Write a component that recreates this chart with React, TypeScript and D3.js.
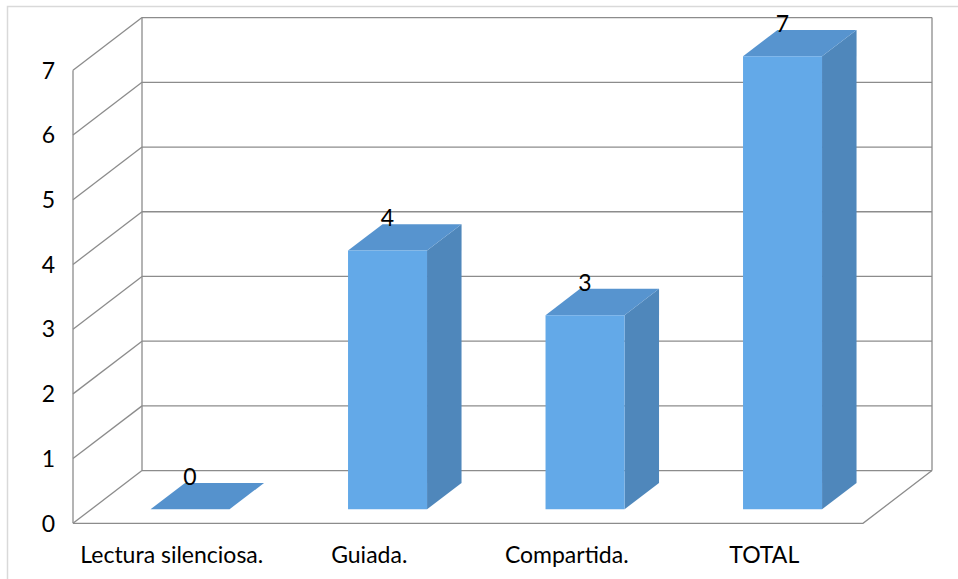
import { useEffect, useRef } from "react";
import * as d3 from "d3";

const categories = ["Lectura silenciosa.", "Guiada.", "Compartida.", "TOTAL"];
const values = [0, 4, 3, 7];
const yTicks = [0, 1, 2, 3, 4, 5, 6, 7];

export default function App() {
  const svgRef = useRef<SVGSVGElement>(null);

  useEffect(() => {
    if (!svgRef.current) return;
    const width = 958;
    const height = 579;

    const svg = d3.select(svgRef.current);
    svg.selectAll("*").remove();
    svg.attr("width", width).attr("height", height);

    // depth vector of the 3D box
    const dx = 69;
    const dy = -52.7;
    const f0 = 0.265; // bar front depth
    const f1 = 0.765; // bar back depth

    const x = d3
      .scaleBand<string>()
      .domain(categories)
      .range([73, 863])
      .paddingInner(0.6)
      .paddingOuter(0.3);

    const y = d3.scaleLinear().domain([0, 7]).range([523.3, 70.3]);

    const pt = (px: number, v: number, f: number) =>
      [px + f * dx, y(v) + f * dy] as [number, number];

    const poly = (pts: [number, number][]) =>
      pts.map((p) => p.join(",")).join(" ");

    const font = "Lato, 'Open Sans', sans-serif";
    const gridColor = "#8c8c8c";

    // outer frame
    svg
      .append("rect")
      .attr("x", 7.5)
      .attr("y", 6.5)
      .attr("width", width)
      .attr("height", height)
      .attr("fill", "#fff")
      .attr("stroke", "#d9d9d9")
      .attr("stroke-width", 1.5);

    const x0 = 73;
    const x1 = 863;
    const grid = svg.append("g").attr("stroke", gridColor).attr("stroke-width", 1.3).attr("fill", "none");

    // back wall gridlines + side wall diagonals
    yTicks.forEach((t) => {
      const a = pt(x0, t, 1);
      const b = pt(x1, t, 1);
      grid.append("line").attr("x1", a[0]).attr("y1", a[1]).attr("x2", b[0]).attr("y2", b[1]);
      const c = pt(x0, t, 0);
      grid.append("line").attr("x1", c[0]).attr("y1", c[1]).attr("x2", a[0]).attr("y2", a[1]);
    });

    // verticals
    const vlines: [number, number][][] = [
      [pt(x0, 0, 0), pt(x0, 7, 0)],
      [pt(x0, 0, 1), pt(x0, 7, 1)],
      [pt(x1, 0, 1), pt(x1, 7, 1)],
    ];
    vlines.forEach(([a, b]) =>
      grid.append("line").attr("x1", a[0]).attr("y1", a[1]).attr("x2", b[0]).attr("y2", b[1]),
    );

    // floor front and right edges
    grid
      .append("polyline")
      .attr("points", poly([pt(x0, 0, 0), pt(x1, 0, 0), pt(x1, 0, 1)]));

    // bars
    const bw = x.bandwidth();
    const bars = svg.append("g");
    categories.forEach((cat, i) => {
      const v = values[i];
      const l = x(cat)!;
      const r = l + bw;
      if (v === 0) {
        bars
          .append("polygon")
          .attr("points", poly([pt(l, 0, f0), pt(r, 0, f0), pt(r, 0, f1), pt(l, 0, f1)]))
          .attr("fill", "#5592cd");
        return;
      }
      // side
      bars
        .append("polygon")
        .attr("points", poly([pt(r, 0, f0), pt(r, v, f0), pt(r, v, f1), pt(r, 0, f1)]))
        .attr("fill", "#4f87bb");
      // top
      bars
        .append("polygon")
        .attr("points", poly([pt(l, v, f0), pt(r, v, f0), pt(r, v, f1), pt(l, v, f1)]))
        .attr("fill", "#5794cf");
      // front
      bars
        .append("polygon")
        .attr("points", poly([pt(l, 0, f0), pt(r, 0, f0), pt(r, v, f0), pt(l, v, f0)]))
        .attr("fill", "#63a9e8");
    });

    // data labels
    categories.forEach((cat, i) => {
      const v = values[i];
      const cx = x(cat)! + bw / 2 + f0 * dx;
      const ty = pt(0, v, f1)[1] + 2;
      svg
        .append("text")
        .attr("x", cx)
        .attr("y", ty)
        .attr("text-anchor", "middle")
        .attr("font-family", font)
        .attr("font-size", 23)
        .attr("fill", "#000")
        .text(v);
    });

    // y axis labels
    yTicks.forEach((t) => {
      svg
        .append("text")
        .attr("x", 55)
        .attr("y", y(t))
        .attr("dy", "0.36em")
        .attr("text-anchor", "end")
        .attr("font-family", font)
        .attr("font-size", 23)
        .attr("fill", "#000")
        .text(t);
    });

    // x axis labels
    categories.forEach((cat) => {
      svg
        .append("text")
        .attr("x", x(cat)! + bw / 2)
        .attr("y", 563)
        .attr("text-anchor", "middle")
        .attr("font-family", font)
        .attr("font-size", 23)
        .attr("fill", "#000")
        .text(cat);
    });
  }, []);

  return (
    <svg
      ref={svgRef}
      style={{ position: "absolute", left: 0, top: 0, display: "block" }}
    />
  );
}
